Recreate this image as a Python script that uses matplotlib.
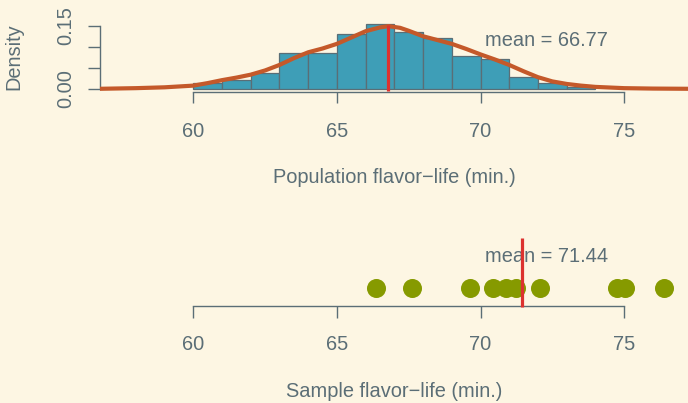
import matplotlib
matplotlib.use("Agg")
import matplotlib.pyplot as plt
import numpy as np

plt.rcParams['font.family'] = ['Liberation Sans', 'DejaVu Sans']

# ---- data ----
bin_left = [60, 61, 62, 63, 64, 65, 66, 67, 68, 69, 70, 71, 72, 73]
bin_density = [0.0135, 0.0213, 0.0386, 0.086, 0.0846, 0.1296, 0.1533,
               0.134, 0.1216, 0.079, 0.071, 0.0277, 0.015, 0.005]
curve_x = [56.75, 58, 59, 59.5, 60, 60.5, 61, 61.5, 62, 62.5, 63, 63.5, 64,
           64.5, 65, 65.5, 66, 66.5, 66.8, 67.2, 67.5, 68, 68.5, 69, 69.5,
           70, 70.5, 71, 71.5, 72, 72.5, 73, 73.5, 74, 75, 76, 77.25]
curve_y = [0.0005, 0.002, 0.004, 0.006, 0.008, 0.014, 0.021, 0.027, 0.034,
           0.044, 0.057, 0.073, 0.087, 0.096, 0.107, 0.122, 0.137, 0.146,
           0.149, 0.145, 0.138, 0.125, 0.116, 0.107, 0.095, 0.082, 0.070,
           0.057, 0.042, 0.028, 0.018, 0.012, 0.008, 0.005, 0.002, 0.001,
           0.0005]
sample = [66.37, 67.61, 69.64, 70.44, 70.88, 71.24, 72.08, 74.77, 75.02, 76.40]
pop_mean = 66.77
sample_mean = 71.44
xticks = [60, 65, 70, 75]
yticks = [0.00, 0.05, 0.10, 0.15]
ytick_labels = ['0.00', '', '', '0.15']
pop_label = "Population flavor\u2212life (min.)"
sample_label = "Sample flavor\u2212life (min.)"

# ---- style ----
BG = '#FDF6E3'
FG = '#5B6E76'
BAR = '#3E9EB7'
CURVE = '#C4592A'
RED = '#DC322F'
GREEN = '#869A00'
FS = 14.4

W, H = 688, 403
fig = plt.figure(figsize=(W / 100, H / 100), dpi=100, facecolor=BG)

def frac_rect(left, top, right, bottom):
    return [left / W, 1 - bottom / H, (right - left) / W, (bottom - top) / H]

XLIM = (56.751, 77.225)

# ---- top panel ----
ax1 = fig.add_axes(frac_rect(100, 15, 688, 91.7))
ax1.set_facecolor(BG)
ax1.set_xlim(*XLIM)
ax1.set_ylim(-0.0064, 0.1754)
ax1.bar(bin_left, bin_density, width=1.0, align='edge', color=BAR,
        edgecolor='#5A6E76', linewidth=0.9, zorder=2)
ax1.plot(curve_x, curve_y, color=CURVE, lw=3.0, solid_capstyle='butt',
         solid_joinstyle='round', zorder=3, clip_on=False)
ax1.plot([pop_mean, pop_mean], [-0.004, 0.152], color=RED, lw=2.3, zorder=4,
         solid_capstyle='butt')
ax1.text(70.15, 0.116, f"mean = {pop_mean:.2f}", color=FG, fontsize=FS,
         ha='left', va='center')

for s in ['top', 'right']:
    ax1.spines[s].set_visible(False)
ax1.spines['bottom'].set_bounds(60, 75)
ax1.spines['left'].set_bounds(0, 0.15)
for s in ['bottom', 'left']:
    ax1.spines[s].set_color(FG)
    ax1.spines[s].set_linewidth(1.0)
ax1.set_xticks(xticks)
ax1.set_xticklabels([str(t) for t in xticks])
ax1.set_yticks(yticks)
ax1.set_yticklabels(ytick_labels, rotation=90, va='center')
ax1.tick_params(axis='x', length=8.2, width=1.0, color=FG, labelcolor=FG,
                labelsize=FS, pad=13.5)
ax1.tick_params(axis='y', length=8.6, width=1.0, color=FG, labelcolor=FG,
                labelsize=FS, pad=9)
ax1.set_ylabel("Density", color=FG, fontsize=FS)
ax1.yaxis.set_label_coords(-0.131, 0.45)

# ---- bottom panel ----
ax2 = fig.add_axes(frac_rect(100, 230, 688, 306))
ax2.set_facecolor(BG)
ax2.set_xlim(*XLIM)
ax2.set_ylim(0, 1)
ax2.plot(sample, [0.233] * len(sample), 'o', color=GREEN, ms=13.7,
         mec='none', zorder=2, clip_on=False)
ax2.text(70.14, 0.649, f"mean = {sample_mean:.2f}", color=FG, fontsize=FS,
         ha='left', va='center', zorder=3)
ax2.plot([sample_mean, sample_mean], [-0.017, 0.891], color=RED, lw=2.3,
         zorder=4, clip_on=False, solid_capstyle='butt')
for s in ['top', 'right', 'left']:
    ax2.spines[s].set_visible(False)
ax2.spines['bottom'].set_bounds(60, 75)
ax2.spines['bottom'].set_color(FG)
ax2.spines['bottom'].set_linewidth(1.0)
ax2.set_yticks([])
ax2.set_xticks(xticks)
ax2.set_xticklabels([str(t) for t in xticks])
ax2.tick_params(axis='x', length=8.6, width=1.0, color=FG, labelcolor=FG,
                labelsize=FS, pad=12)

fig.text(394 / W, 1 - 178 / H, pop_label, color=FG, fontsize=FS,
         ha='center', va='center')
fig.text(394 / W, 1 - 391.7 / H, sample_label, color=FG, fontsize=FS,
         ha='center', va='center')

fig.savefig("out.png", dpi=100, facecolor=BG)
